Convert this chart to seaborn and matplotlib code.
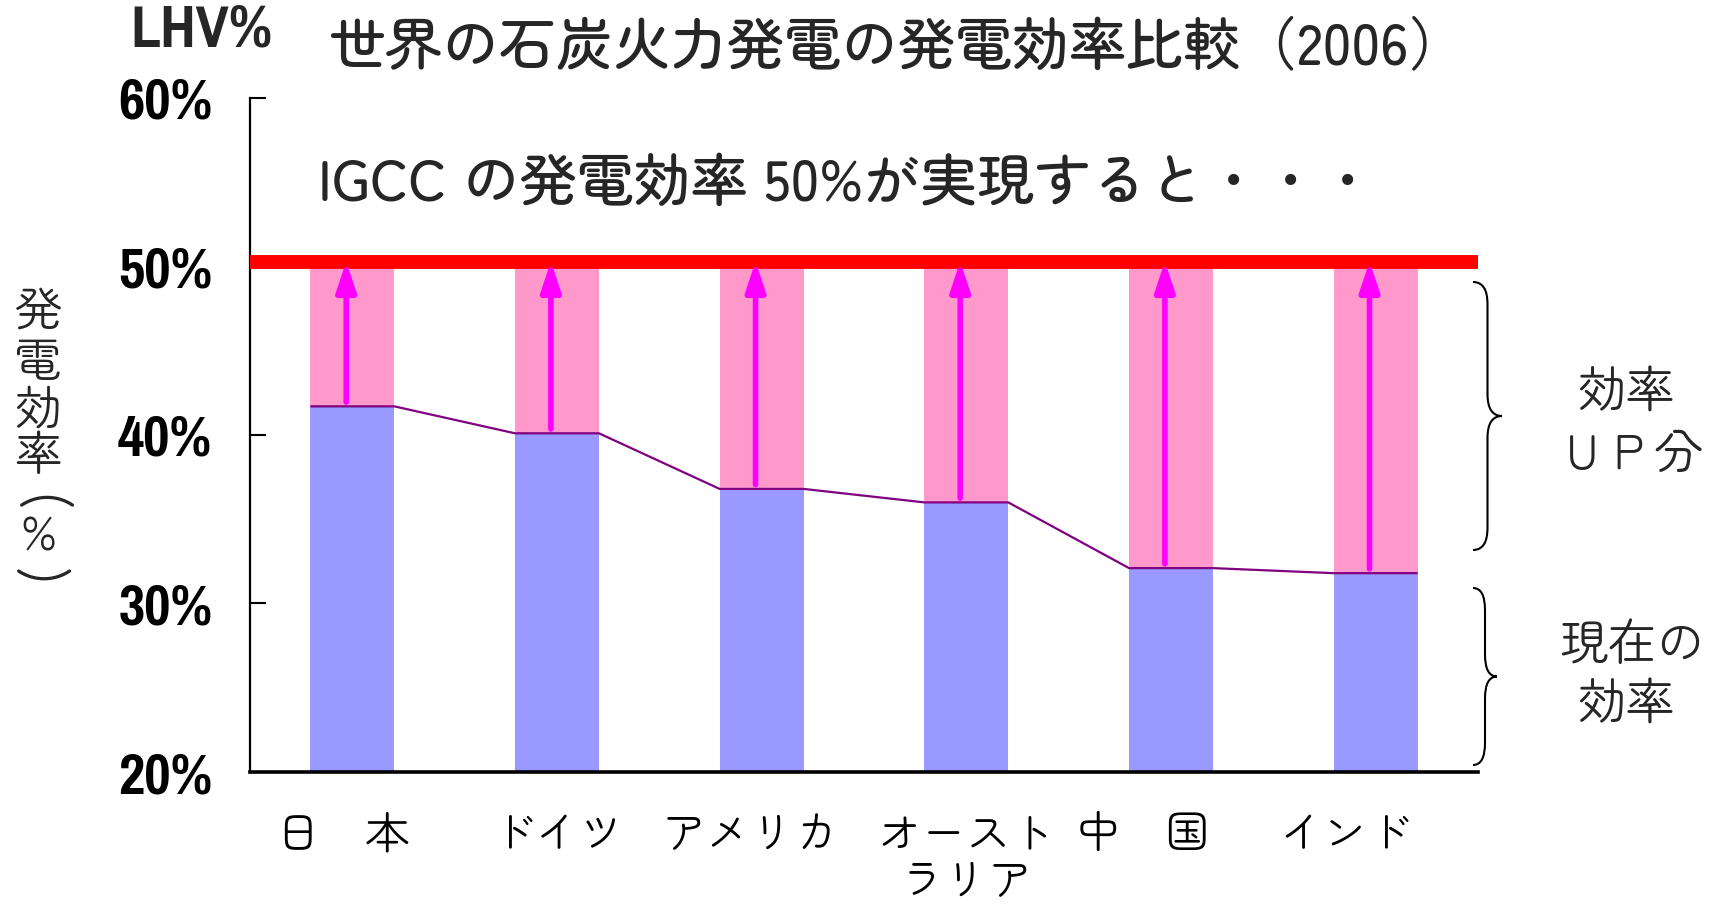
import numpy as np
import pandas as pd
import matplotlib
matplotlib.use('Agg')
import matplotlib.pyplot as plt
import seaborn as sns
from matplotlib.path import Path
from matplotlib.patches import PathPatch
from matplotlib.transforms import Affine2D, ScaledTranslation

# ---------------- data ----------------
countries = ['日　本', 'ドイツ', 'アメリカ', 'オースト\nラリア', '中　国', 'インド']
current = [41.7, 40.1, 36.8, 36.0, 32.1, 31.8]
target = 50.0
yticks = [20, 30, 40, 50, 60]
ytick_labels = ['20%', '30%', '40%', '50%', '60%']

title = '世界の石炭火力発電の発電効率比較（2006）'
subtitle = 'IGCC の発電効率 50%が実現すると・・・'

# ---------------- layout ----------------
W, H = 1717, 905
DPI = 100
sns.set_theme(style='white')
JP = ['Zen Maru Gothic', 'Noto Sans CJK JP', 'DejaVu Sans']
NARROW = ['Pragati Narrow', 'Roboto Condensed', 'DejaVu Sans']
plt.rcParams['font.family'] = JP

fig = plt.figure(figsize=(W / DPI, H / DPI), dpi=DPI)
fig.patch.set_facecolor('white')
ax = fig.add_axes([250 / W, 1 - 772 / H, (1478 - 250) / W, (772 - 98) / H])
ax.set_facecolor('white')

PX = Affine2D().scale(1, -1).translate(0, H).scale(1 / W, 1 / H) + fig.transFigure

df = pd.DataFrame({'country': countries, 'current': current,
                   'target': [target] * len(countries)})
bw = 0.41
sns.barplot(data=df, x='country', y='target', color='#FF99CC', saturation=1,
            width=bw, linewidth=0, ax=ax, zorder=1)
sns.barplot(data=df, x='country', y='current', color='#9999FF', saturation=1,
            width=bw, linewidth=0, ax=ax, zorder=2)

xs, ys = [], []
for i, v in enumerate(current):
    xs += [i - bw / 2, i + bw / 2]
    ys += [v, v]
ax.plot(xs, ys, color='#800080', lw=1.6, zorder=3, solid_capstyle='butt')

ax.axhline(target + 0.25, color='#FF0000', lw=10, zorder=4)

for i, v in enumerate(current):
    ax.annotate('', xy=(i - 0.03, target + 0.3), xytext=(i - 0.03, v + 0.25),
                arrowprops=dict(arrowstyle='-|>,head_length=0.9,head_width=0.3',
                                color='#FF00FF', lw=4, shrinkA=0, shrinkB=0,
                                mutation_scale=20),
                zorder=5)

ax.set_ylim(20, 60)
ax.set_xlim(-0.5, len(countries) - 0.5)
ax.set_xlabel('')
ax.set_ylabel('')

for s in ['top', 'right']:
    ax.spines[s].set_visible(False)
ax.spines['left'].set_linewidth(1.6)
ax.spines['bottom'].set_linewidth(2.6)
for s in ['left', 'bottom']:
    ax.spines[s].set_color('black')

ax.set_yticks(yticks)
ax.set_yticklabels(ytick_labels)
ax.tick_params(axis='y', direction='in', length=11.5, width=1.5, pad=27,
               left=True, colors='black')
for lab in ax.get_yticklabels():
    lab.set_fontfamily(NARROW)
    lab.set_fontweight('bold')
    lab.set_fontsize(45)

ax.set_xticks(range(len(countries)))
ax.set_xticklabels(countries, fontsize=32, va='top', linespacing=1.15)
ax.tick_params(axis='x', length=0, pad=32, colors='black')
x_off = [-10, 1, -11, 0, -28, -31]
for lab, dx in zip(ax.get_xticklabels(), x_off):
    lab.set_transform(lab.get_transform() + ScaledTranslation(dx / DPI, 0, fig.dpi_scale_trans))

fig.text(897, 49, title, transform=PX, fontsize=41, ha='center', va='center', fontweight='medium')
fig.text(318, 186, subtitle, transform=PX, fontsize=41, ha='left', va='center', fontweight='medium')
fig.text(202, 30, 'LHV%', transform=PX, fontsize=47, ha='center', va='center',
         fontweight='bold', family=NARROW)

ylab_chars = ['発', '電', '効', '率', '(', '%', ')']
ylab_y = [313, 365, 413, 458, 503, 538, 577]
ylab_rot = [0, 0, 0, 0, -90, 0, -90]
ylab_size = [34, 34, 34, 34, 40, 34, 40]
for c, yy, rot, fs in zip(ylab_chars, ylab_y, ylab_rot, ylab_size):
    fig.text(38, yy, c, transform=PX, fontsize=fs, ha='center', va='center',
             rotation=rot, rotation_mode='anchor')

right_lines = [('効率', 1627, 395), ('ＵＰ分', 1631, 457),
               ('現在の', 1632, 648), ('効率', 1627, 707)]
for t, xx, yy in right_lines:
    fig.text(xx, yy, t, transform=PX, fontsize=35, ha='center', va='center')


def brace(x0, y0, y1, tip, r=22):
    ym = (y0 + y1) / 2
    xm = (x0 + tip) / 2
    verts = [(x0, y0), (xm, y0), (xm, y0 + r), (xm, ym - r), (xm, ym), (tip, ym),
             (xm, ym), (xm, ym + r), (xm, y1 - r), (xm, y1), (x0, y1)]
    codes = [Path.MOVETO, Path.CURVE3, Path.CURVE3, Path.LINETO, Path.CURVE3, Path.CURVE3,
             Path.CURVE3, Path.CURVE3, Path.LINETO, Path.CURVE3, Path.CURVE3]
    return PathPatch(Path(verts, codes), transform=PX, fill=False, lw=1.5,
                     edgecolor='black', clip_on=False)

fig.add_artist(brace(1473, 282, 550, 1502))
fig.add_artist(brace(1473, 588, 765, 1497))

fig.savefig('out.png', dpi=DPI, facecolor='white')
